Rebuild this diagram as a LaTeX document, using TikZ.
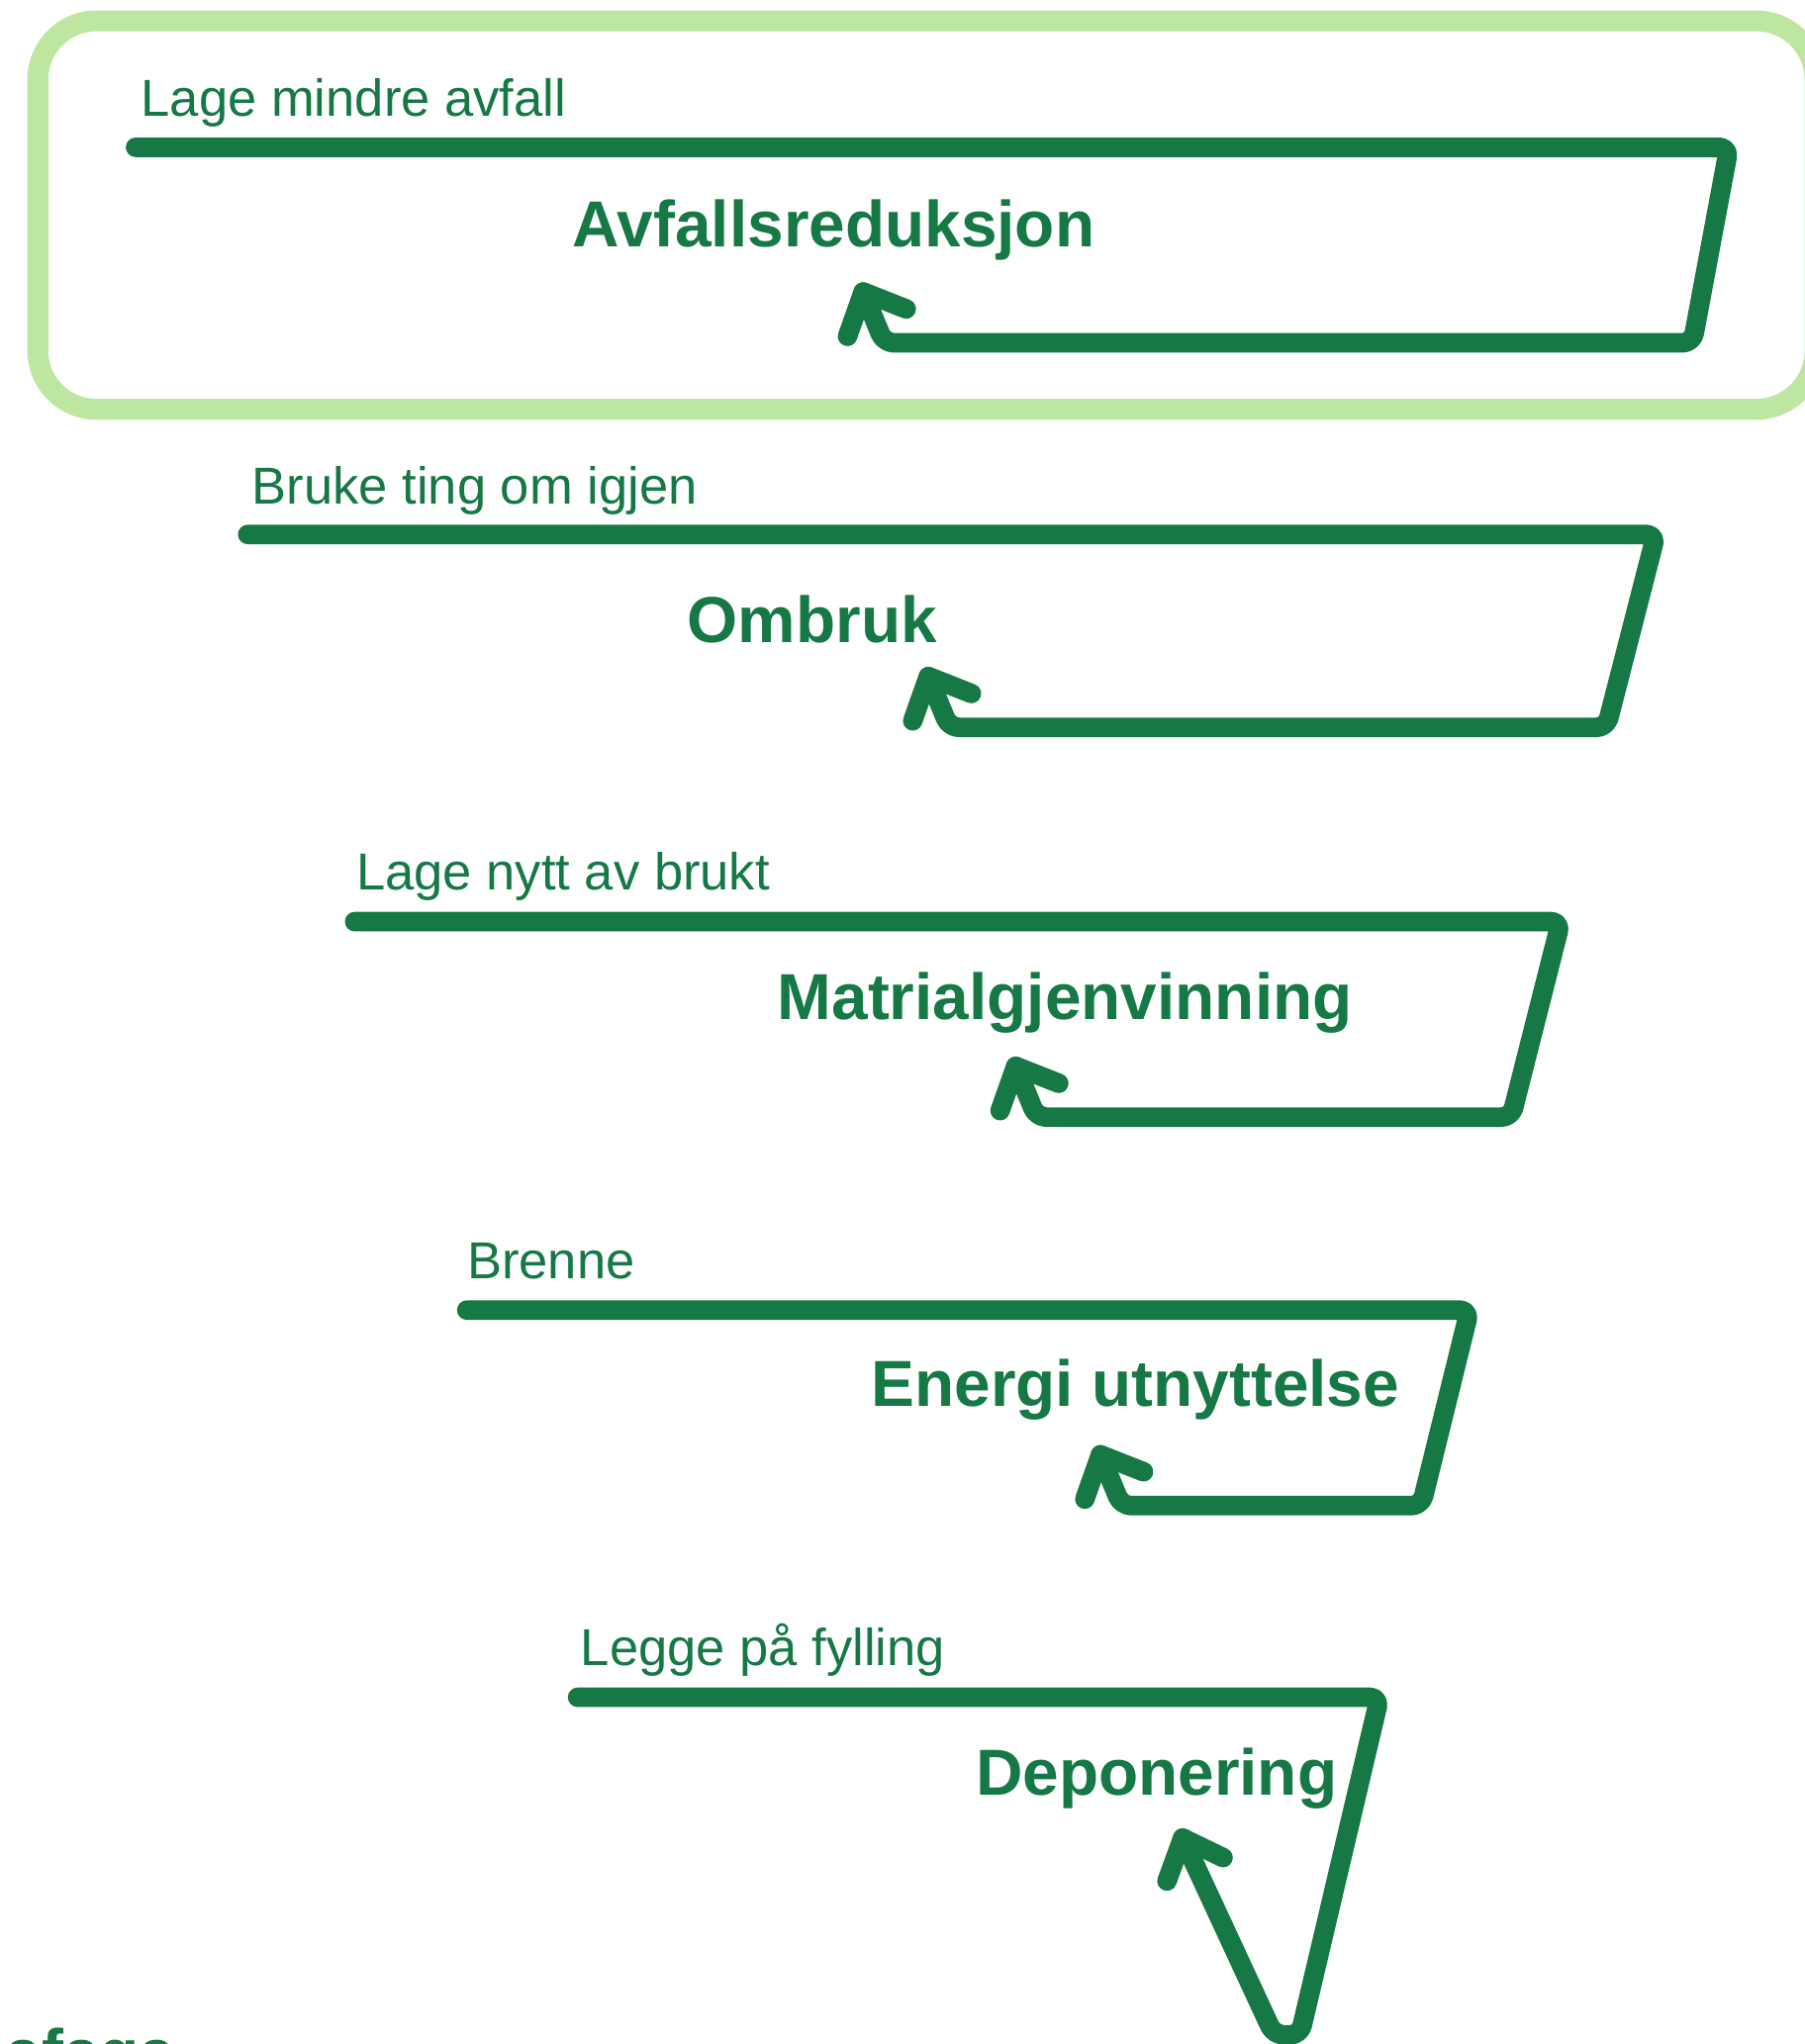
\documentclass[tikz,border=0pt]{standalone}
\usepackage{fontspec}
\setmainfont{Liberation Sans}
\definecolor{fgreen}{RGB}{21,120,69}
\definecolor{lgreen}{RGB}{189,230,161}
\begin{document}
\begin{tikzpicture}[x=0.02cm, y=-0.02cm, line join=round, line cap=round,
	zline/.style={draw=fgreen, line width=0.3cm, rounded corners=0.15cm},
	barb/.style={draw=fgreen, line width=0.3cm},
	lbl/.style={anchor=base west, inner sep=0pt, text=fgreen, font=\fontsize{22.7}{27}\selectfont},
	ttl/.style={anchor=base west, inner sep=0pt, text=fgreen, font=\fontsize{28.4}{34}\selectfont\bfseries}]
	\useasboundingbox (0,0) rectangle (1384,1568);
	% highlighted step
	\draw[lgreen, line width=0.32cm, rounded corners=0.9cm] (29,16) rectangle (1392,314);
	% step 1
	\draw[zline] (104,113)--(1326,113)--(1298,263)--(678,263)--(662,224);
	\draw[barb] (650,258)--(662,224)--(695,237);
	\node[lbl] (l1) at (108,89) {Lage mindre avfall};
	\node[ttl] (t1) at (439,189) {Avfallsreduksjon};
	% step 2
	\draw[zline] (190,410)--(1270,410)--(1232,558)--(728,558)--(712,519);
	\draw[barb] (700,553)--(712,519)--(745,532);
	\node[lbl] (l2) at (193,387) {Bruke ting om igjen};
	\node[ttl] (t2) at (527,493) {Ombruk};
	% step 3
	\draw[zline] (272,707)--(1197,707)--(1159,857)--(795,857)--(779,818);
	\draw[barb] (767,852)--(779,818)--(812,831);
	\node[lbl] (l3) at (273,683) {Lage nytt av brukt};
	\node[ttl] (t3) at (596,782) {Matrialgjenvinning};
	% step 4
	\draw[zline] (358,1005)--(1127,1005)--(1090,1155)--(860,1155)--(844,1116);
	\draw[barb] (832,1150)--(844,1116)--(877,1129);
	\node[lbl] (l4) at (358,981) {Brenne};
	\node[ttl] (t4) at (668,1079) {Energi utnyttelse};
	% step 5
	\draw[zline] (443,1302)--(1058,1302)--(997,1561)--(977,1561)--(907,1410);
	\draw[barb] (895,1443)--(907,1410)--(938,1425);
	\node[lbl] (l5) at (445,1278) {Legge på fylling};
	\node[ttl] (t5) at (748,1377) {Deponering};
	% cut-off text at the bottom
	\node[ttl] (src) at (4,1592) {afaga};
\end{tikzpicture}
\end{document}
